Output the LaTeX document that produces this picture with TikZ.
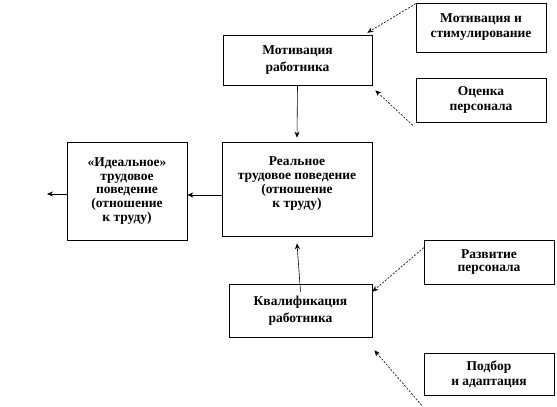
\documentclass[tikz,border=0pt]{standalone}
\usepackage{fontspec}
\setmainfont{Liberation Serif}
\usepackage{tikz}
\usetikzlibrary{arrows.meta, positioning, calc}

\begin{document}
\begin{tikzpicture}[x=1pt, y=-1pt,
    box/.style={draw, line width=0.6pt, align=center, inner sep=2pt,
        font=\fontsize{13.5}{13.8}\selectfont\bfseries},
    loose/.style={font=\fontsize{13.5}{16.5}\selectfont\bfseries},
    link/.style={-{Stealth[length=6pt, width=5pt]}, line width=0.6pt},
    dlink/.style={link, dash pattern=on 2pt off 1.5pt}]
    \useasboundingbox (0,0) rectangle (557,407);
    % main column
    \node[box, loose, minimum width=149pt, minimum height=50pt] (motiv)  at (297.5,60)  {Мотивация\\работника};
    \node[box, minimum width=150pt, minimum height=94pt] (real)   at (297,189)   {Реальное\\трудовое поведение\\(отношение\\к труду)\\\mbox{}};
    \node[box, loose, minimum width=143pt, minimum height=53pt] (qual)   at (300.5,310.5) {Квалификация\\работника};
    \node[box, minimum width=120pt, minimum height=98pt] (ideal)  at (127,191)   {«Идеальное»\\трудовое\\поведение\\(отношение\\к труду)};
    % outer factors
    \node[box, minimum width=130pt, minimum height=49pt, font=\fontsize{13.5}{15}\selectfont\bfseries] (stim)   at (481,27.5)  {Мотивация и\\стимулирование};
    \node[box, minimum width=130pt, minimum height=44pt, font=\fontsize{13.5}{15}\selectfont\bfseries] (ocenka) at (481,100)   {Оценка\\персонала};
    \node[box, minimum width=130pt, minimum height=44pt] (razv)   at (489,262)   {Развитие\\персонала};
    \node[box, minimum width=130pt, minimum height=42pt, font=\fontsize{13.5}{15}\selectfont\bfseries] (podbor) at (489,374)   {Подбор\\и адаптация};
    \coordinate (out) at (47,194);

    \draw[link] (motiv.south) -- ([yshift=4pt]real.north);
    \draw[link] ([yshift=-8pt]qual.north) -- ([yshift=-7pt]real.south);
    \draw[link] ([yshift=-6pt]real.west) -- ([yshift=-4pt]ideal.east);
    \draw[link] ([yshift=-3pt]ideal.west) -- (out);
    \draw[dlink] ([yshift=-1pt]stim.north west) -- ([shift={(-5pt,2pt)}]motiv.north east);
    \draw[dlink] ([shift={(-3pt,-3pt)}]ocenka.south west) -- ([shift={(3pt,-5pt)}]motiv.south east);
    \draw[dlink] ([yshift=-8pt]razv.north west) -- ([yshift=-8pt]qual.north east);
    \draw[dlink] ([shift={(-2pt,-10pt)}]podbor.south west) -- ([shift={(2pt,-13pt)}]qual.south east);
\end{tikzpicture}
\end{document}
